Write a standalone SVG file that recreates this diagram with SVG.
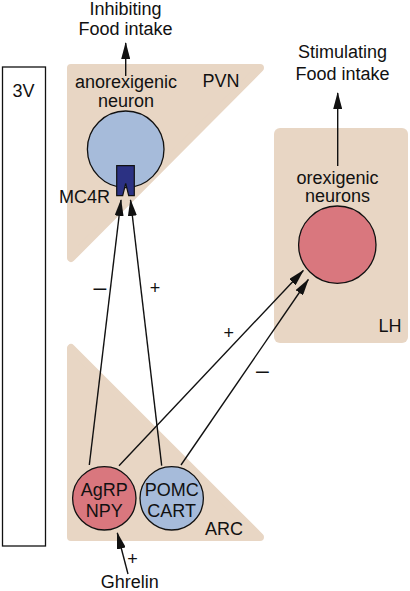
<svg xmlns="http://www.w3.org/2000/svg" width="410" height="591" viewBox="0 0 410 591">
<style>
text{font-family:"Liberation Sans",Arial,Helvetica,sans-serif;font-size:18px;fill:#111;}
.c{text-anchor:middle;}
.m{font-size:23px;}
.region{fill:#e8d6c4;stroke:#e8d6c4;stroke-width:8;stroke-linejoin:round;}
.cell{stroke:#111;stroke-width:1.3;}
.blue{fill:#a6bbda;}
.red{fill:#d9777e;}
.conn{stroke:#111;stroke-width:1.4;fill:none;marker-end:url(#ah);}
</style>
<defs>
<marker id="ah" markerUnits="userSpaceOnUse" markerWidth="17" markerHeight="9" viewBox="0 0 17 9" refX="16" refY="4.5" orient="auto">
<path d="M0,0 L17,4.5 L0,9 Z" fill="#111"/>
</marker>
</defs>
<rect width="410" height="591" fill="#fff"/>

<g id="third-ventricle">
<rect x="2.5" y="67" width="43" height="479" fill="#fff" stroke="#111" stroke-width="1.3"/>
<text x="23.5" y="97" class="c">3V</text>
</g>

<g id="PVN">
<polygon class="region" points="71,68 260,68 71,258"/>
<text x="221" y="87" class="c">PVN</text>
</g>

<g id="ARC">
<polygon class="region" points="71,348 71,537 260,537"/>
<text x="224" y="535" class="c">ARC</text>
</g>

<g id="LH">
<rect x="274" y="128" width="134" height="215" rx="6" fill="#e8d6c4"/>
<text x="390" y="332" class="c">LH</text>
</g>

<g id="anorexigenic-neuron">
<text x="126" y="88" class="c">anorexigenic</text>
<text x="126" y="107" class="c">neuron</text>
<circle class="cell blue" cx="125.7" cy="149.3" r="38.3"/>
</g>

<g id="MC4R">
<path d="M116.7,165.7 H134.3 V195.7 H128.7 L125.7,183.3 L122.7,195.7 H116.7 Z" fill="#2b3183" stroke="#111" stroke-width="1.2"/>
<text x="110" y="203" text-anchor="end">MC4R</text>
</g>

<g id="orexigenic-neurons">
<text x="337.5" y="183.5" class="c">orexigenic</text>
<text x="337.5" y="202" class="c">neurons</text>
<circle class="cell red" cx="337.3" cy="244.7" r="38.7"/>
</g>

<g id="AgRP-NPY">
<circle class="cell red" cx="104.3" cy="498.3" r="31.7"/>
<text x="104.3" y="496" class="c">AgRP</text>
<text x="104.3" y="516.5" class="c">NPY</text>
</g>

<g id="POMC-CART">
<circle class="cell blue" cx="171.7" cy="498.3" r="31.7"/>
<text x="171.7" y="496" class="c">POMC</text>
<text x="171.7" y="516.5" class="c">CART</text>
</g>

<g id="labels">
<text x="125.5" y="15" class="c">Inhibiting</text>
<text x="125.5" y="35" class="c">Food intake</text>
<text x="342.5" y="58" class="c">Stimulating</text>
<text x="342.5" y="80" class="c">Food intake</text>
<text x="129.7" y="588" class="c">Ghrelin</text>
</g>

<g id="connectors">
<line class="conn" x1="125.7" y1="76" x2="125.7" y2="43"/>
<line class="conn" x1="337.7" y1="166" x2="337.7" y2="93"/>
<line class="conn" x1="89.3" y1="465" x2="121" y2="200"/>
<line class="conn" x1="161.7" y1="465.7" x2="130.5" y2="200"/>
<line class="conn" x1="119" y1="465.7" x2="303.3" y2="270.5"/>
<line class="conn" x1="181" y1="465" x2="308.3" y2="279.5"/>
<line class="conn" x1="128" y1="574" x2="117.3" y2="533"/>
<text x="100" y="295" class="c m">–</text>
<text x="155" y="294" class="c">+</text>
<text x="228.7" y="339" class="c">+</text>
<text x="262.3" y="378" class="c m">–</text>
<text x="132.5" y="565" class="c">+</text>
</g>
</svg>
